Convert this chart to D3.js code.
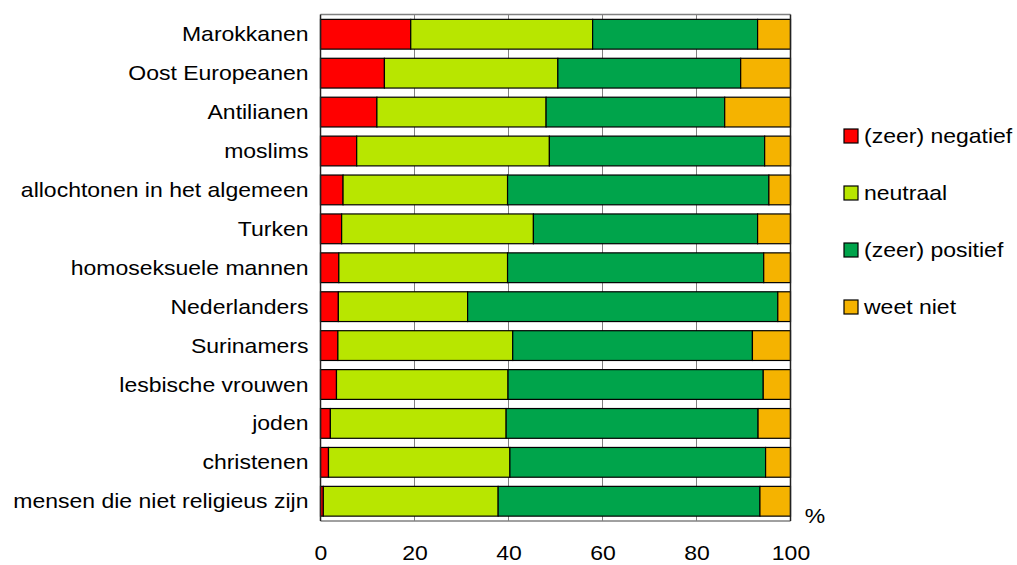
<!DOCTYPE html>
<html><head><meta charset="utf-8">
<script src="https://cdn.jsdelivr.net/npm/d3@7"></script>
<style>
body{margin:0;background:#fff;}
svg{display:block;}
text{font-family:"Liberation Sans",Arial,sans-serif;fill:#000;}
</style></head>
<body>
<svg id="chart" width="1017" height="565"></svg>
<script>
const categories = ["Marokkanen","Oost Europeanen","Antilianen","moslims","allochtonen in het algemeen","Turken","homoseksuele mannen","Nederlanders","Surinamers","lesbische vrouwen","joden","christenen","mensen die niet religieus zijn"];
const seriesNames = ["(zeer) negatief","neutraal","(zeer) positief","weet niet"];
const negatief = [19.2,13.6,12.0,7.7,4.8,4.5,3.9,3.8,3.7,3.4,2.1,1.7,0.6];
const neutraal = [38.7,36.9,36.0,41.0,35.0,40.8,35.9,27.5,37.2,36.5,37.4,38.6,37.2];
const positief = [35.1,38.9,38.0,45.8,55.6,47.7,54.5,66.0,51.0,54.3,53.6,54.4,55.7];
const weetNiet = [7.0,10.6,14.0,5.5,4.6,7.0,5.7,2.7,8.1,5.8,6.9,5.3,6.5];
const xTicks = [0,20,40,60,80,100];
const colors = ["#ff0000","#b8e600","#00a44b","#f5b300"];

const svg = d3.select("#chart");
const L = 320.5, R = 790.5, T = 14.5, B = 521;
const SX = 1.15, FS = 20;

const x = d3.scaleLinear().domain([0,100]).range([L,R]);
const y = d3.scaleBand().domain(categories).range([T,B]).paddingInner(0.235).paddingOuter(0.125);

const rows = categories.map((c,i)=>({cat:c, negatief:negatief[i], neutraal:neutraal[i], positief:positief[i], weetNiet:weetNiet[i]}));
const keys = ["negatief","neutraal","positief","weetNiet"];
const stack = d3.stack().keys(keys)(rows);

// grid lines
svg.append("g").selectAll("line").data(xTicks.slice(1,-1)).join("line")
  .attr("x1",d=>x(d)).attr("x2",d=>x(d)).attr("y1",T).attr("y2",B)
  .attr("stroke","#808080").attr("stroke-width",1);

// frame top/bottom gray
svg.append("line").attr("x1",L).attr("x2",R).attr("y1",T).attr("y2",T).attr("stroke","#808080").attr("stroke-width",1.3);
svg.append("line").attr("x1",L).attr("x2",R).attr("y1",B).attr("y2",B).attr("stroke","#808080").attr("stroke-width",1.3);

// bars
svg.append("g").selectAll("g").data(stack).join("g")
  .attr("fill",(d,i)=>colors[i])
  .selectAll("rect").data(d=>d).join("rect")
  .attr("x",d=>x(d[0])).attr("width",d=>x(d[1])-x(d[0]))
  .attr("y",d=>y(d.data.cat)).attr("height",y.bandwidth())
  .attr("stroke","#000").attr("stroke-width",1.2);

// left and right frame
svg.append("line").attr("x1",L).attr("x2",L).attr("y1",T).attr("y2",B).attr("stroke","#222").attr("stroke-width",1.5);
svg.append("line").attr("x1",R).attr("x2",R).attr("y1",T).attr("y2",B).attr("stroke","#222").attr("stroke-width",1.5);

// y axis
const yAxis = svg.append("g").attr("transform",`translate(${L},0)`).call(d3.axisLeft(y).tickSize(0).tickPadding(0));
yAxis.select(".domain").remove();
yAxis.selectAll("text").attr("x",null).attr("dy","0.35em")
  .attr("transform",`translate(-12,0) scale(${SX},1)`)
  .style("font-size",FS+"px").style("font-family","'Liberation Sans',Arial,sans-serif").attr("fill","#000");

// x axis
const xAxis = svg.append("g").attr("transform",`translate(0,${B})`).call(d3.axisBottom(x).tickValues(xTicks).tickSize(0).tickFormat(d3.format("d")));
xAxis.select(".domain").remove();
xAxis.selectAll("text").attr("y",null).attr("dy",null)
  .attr("transform",`translate(0,39) scale(${SX},1)`)
  .style("font-size",FS+"px").style("font-family","'Liberation Sans',Arial,sans-serif").attr("fill","#000");

// % label
svg.append("text").attr("transform",`translate(815,523) scale(${SX},1)`).attr("text-anchor","middle")
  .style("font-size",FS+"px").text("%");

// legend
const lg = svg.append("g").selectAll("g").data(seriesNames).join("g")
  .attr("transform",(d,i)=>`translate(844,${136+i*57})`);
lg.append("rect").attr("x",0).attr("y",-7).attr("width",14).attr("height",14)
  .attr("fill",(d,i)=>colors[i]).attr("stroke","#000").attr("stroke-width",1.2);
lg.append("text").attr("transform",`translate(20,7) scale(${SX},1)`)
  .style("font-size",FS+"px").text(d=>d);
</script>
</body></html>
